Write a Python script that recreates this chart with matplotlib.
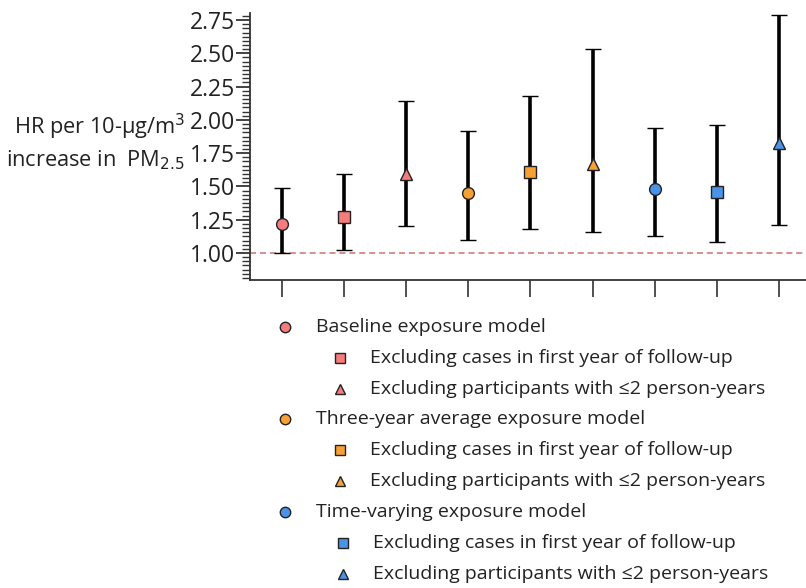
import numpy as np
import matplotlib
matplotlib.use("Agg")
import matplotlib.pyplot as plt
from matplotlib.ticker import MultipleLocator, AutoMinorLocator
from matplotlib.lines import Line2D

plt.rcParams['font.family'] = ['Open Sans', 'DejaVu Sans']

# hazard ratios with 95% CI, one per model
hr = [1.22, 1.27, 1.59, 1.45, 1.61, 1.67, 1.48, 1.46, 1.83]
ci_low = [1.00, 1.02, 1.20, 1.10, 1.18, 1.16, 1.13, 1.08, 1.21]
ci_high = [1.49, 1.59, 2.14, 1.92, 2.18, 2.53, 1.94, 1.96, 2.79]
markers = ['o', 's', '^', 'o', 's', '^', 'o', 's', '^']
red = '#f47c7c'
orange = '#f7a035'
blue = '#4a93e8'
colors = [red, red, red, orange, orange, orange, blue, blue, blue]
labels = ['Baseline exposure model',
          'Excluding cases in first year of follow-up',
          'Excluding participants with \u22642 person-years',
          'Three-year average exposure model',
          'Excluding cases in first year of follow-up',
          'Excluding participants with \u22642 person-years',
          'Time-varying exposure model',
          'Excluding cases in first year of follow-up',
          'Excluding participants with \u22642 person-years']

fig = plt.figure(figsize=(8.06, 5.88), dpi=100)
ax = fig.add_axes([250/806, 1-280/588, 1-250/806 + 0.02, 267/588])

x = np.arange(1, len(hr) + 1)
for i in range(len(hr)):
    ax.errorbar(x[i], hr[i], yerr=[[hr[i] - ci_low[i]], [ci_high[i] - hr[i]]],
                fmt=markers[i], color='black', ecolor='black', elinewidth=2.6,
                capsize=6, capthick=2.6, markersize=8.5 if markers[i] != '^' else 9,
                markerfacecolor=colors[i], markeredgecolor='#222222',
                markeredgewidth=1.0, zorder=3)

ax.axhline(1.0, color='#c0504d', linestyle=(0, (4, 2.5)), linewidth=1.1, alpha=0.8, zorder=1)

ax.set_xlim(0.48, 9.7)
ax.set_ylim(0.797, 2.803)
ax.set_xticks(x)
ax.set_xticklabels([])
ax.yaxis.set_major_locator(MultipleLocator(0.25))
ax.yaxis.set_minor_locator(AutoMinorLocator(8))
ax.tick_params(axis='y', which='major', length=10, width=1.2, labelsize=16.5, pad=1, colors='#222222')
ax.tick_params(axis='y', which='minor', length=6, width=1.0, colors='#333333')
ax.tick_params(axis='x', which='major', length=12, width=1.2, colors='#333333')
ax.spines['top'].set_visible(False)
ax.spines['right'].set_visible(False)
ax.spines['left'].set_linewidth(1.3)
ax.spines['bottom'].set_linewidth(1.3)
ax.spines['left'].set_color('#333333')
ax.spines['bottom'].set_color('#333333')

# y axis title, two lines
fig.text(185/806, 1-127/588, 'HR per 10-\u03bcg/m$^3$', ha='right', va='center', fontsize=15.7, color='#222222')
fig.text(185/806, 1-160/588, 'increase in  PM$_{2.5}$', ha='right', va='center', fontsize=15.7, color='#222222')

# legend laid out by hand below the plot
row_y = [327, 358, 389, 419, 450, 481, 512, 543, 574]
for i in range(len(labels)):
    sub = markers[i] != 'o'
    mx = 340 if sub else 285
    tx = 370 if sub else 316
    if i >= 7:
        mx += 3
        tx += 3
    yy = 1 - row_y[i]/588
    fig.add_artist(Line2D([mx/806], [yy], marker=markers[i], markersize=7.5,
                          markerfacecolor=colors[i], markeredgecolor='#222222', markeredgewidth=1.0,
                          linestyle='none', transform=fig.transFigure))
    fig.text(tx/806, yy, labels[i], ha='left', va='center', fontsize=14, color='#222222')

fig.savefig('out.png', dpi=100)
